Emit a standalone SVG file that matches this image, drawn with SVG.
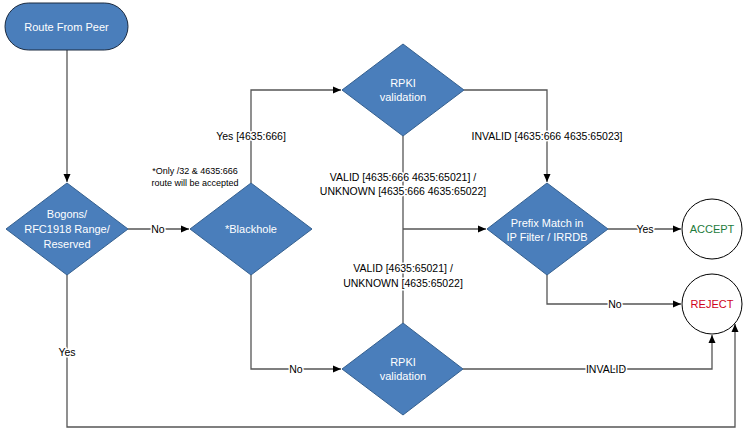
<svg xmlns="http://www.w3.org/2000/svg" width="743" height="429" viewBox="0 0 743 429">
<defs>
<marker id="arr" viewBox="0 0 8 8" refX="8" refY="4" markerWidth="8" markerHeight="8" markerUnits="userSpaceOnUse" orient="auto">
<path d="M0,0.5 L8,4 L0,7.5 z" fill="#000"/>
</marker>
<style>
.shape{fill:#4a7ebb;stroke:#35608f;stroke-width:1}
.term{fill:#4a7ebb;stroke:#1a2a40;stroke-width:1}
.circ{fill:#fff;stroke:#000;stroke-width:1}
.ntxt{font-family:"Liberation Sans",Arial,sans-serif;font-size:11px;fill:#fff;text-anchor:middle}
.con{fill:none;stroke:#555;stroke-width:1.3}
.arr{marker-end:url(#arr)}
.lbl{font-family:"Liberation Sans",Arial,sans-serif;font-size:10.5px;fill:#000;text-anchor:middle;stroke:#fff;stroke-width:3;paint-order:stroke;stroke-linejoin:round}
.note{font-family:"Liberation Sans",Arial,sans-serif;font-size:9px;fill:#000;text-anchor:middle}
</style>
</defs>
<rect width="743" height="429" fill="#fff"/>
<g id="connectors">
<path class="con arr" d="M67,50 V182"/>
<path class="con arr" d="M128,229 H189"/>
<path class="con arr" d="M251,183 V90 H341"/>
<path class="con arr" d="M464,90 H547 V182"/>
<path class="con" d="M403,136 V323"/>
<path class="con arr" d="M403,229 H486"/>
<path class="con arr" d="M608,229 H681"/>
<path class="con arr" d="M547,275 V304 H681"/>
<path class="con arr" d="M251,275 V369 H341"/>
<path class="con arr" d="M463,369 H712 V335"/>
<path class="con arr" d="M67,275 V427 H735 V324"/>
<text class="lbl" x="158" y="229" dy="0.35em">No</text>
<text class="lbl" x="251" y="136" dy="0.35em">Yes [4635:666]</text>
<text class="lbl" x="547" y="136" dy="0.35em">INVALID [4635:666 4635:65023]</text>
<text class="lbl" x="403" y="177" dy="0.35em">VALID [4635:666 4635:65021] /</text>
<text class="lbl" x="403" y="191" dy="0.35em">UNKNOWN [4635:666 4635:65022]</text>
<text class="lbl" x="403" y="268" dy="0.35em">VALID [4635:65021] /</text>
<text class="lbl" x="403" y="283" dy="0.35em">UNKNOWN [4635:65022]</text>
<text class="lbl" x="645" y="229" dy="0.35em">Yes</text>
<text class="lbl" x="615" y="304" dy="0.35em">No</text>
<text class="lbl" x="296" y="369" dy="0.35em">No</text>
<text class="lbl" x="606" y="369" dy="0.35em">INVALID</text>
<text class="lbl" x="67" y="352" dy="0.35em">Yes</text>
</g>
<g id="route-from-peer">
<rect class="term" x="5" y="3" width="123" height="47" rx="23.5"/>
<text class="ntxt" x="66.5" y="27" dy="0.35em">Route From Peer</text>
</g>
<g id="bogons">
<polygon class="shape" points="67,183 128,229 67,275 6,229"/>
<text class="ntxt" x="67" y="214" dy="0.35em">Bogons/</text>
<text class="ntxt" x="67" y="229" dy="0.35em">RFC1918 Range/</text>
<text class="ntxt" x="67" y="244" dy="0.35em">Reserved</text>
</g>
<g id="blackhole">
<polygon class="shape" points="251,183 312,229 251,275 190,229"/>
<text class="ntxt" x="251" y="229" dy="0.35em">*Blackhole</text>
<text class="note" x="195" y="171" dy="0.35em">*Only /32 &amp; 4635:666</text>
<text class="note" x="195" y="183" dy="0.35em">route will be accepted</text>
</g>
<g id="rpki-top">
<polygon class="shape" points="403,44 464,90 403,136 342,90"/>
<text class="ntxt" x="403" y="83" dy="0.35em">RPKI</text>
<text class="ntxt" x="403" y="97" dy="0.35em">validation</text>
</g>
<g id="prefix-match">
<polygon class="shape" points="547,183 608,229 547,275 487,229"/>
<text class="ntxt" x="547" y="223" dy="0.35em">Prefix Match in</text>
<text class="ntxt" x="547" y="237" dy="0.35em">IP Filter / IRRDB</text>
</g>
<g id="rpki-bottom">
<polygon class="shape" points="403,323 463,369 403,415 342,369"/>
<text class="ntxt" x="403" y="362" dy="0.35em">RPKI</text>
<text class="ntxt" x="403" y="376" dy="0.35em">validation</text>
</g>
<g id="accept">
<circle class="circ" cx="712" cy="229" r="30"/>
<text class="ntxt" x="712" y="229" dy="0.35em" style="fill:#1e7b3c">ACCEPT</text>
</g>
<g id="reject">
<circle class="circ" cx="712" cy="304" r="30"/>
<text class="ntxt" x="712" y="304" dy="0.35em" style="fill:#d0021b">REJECT</text>
</g>
</svg>
